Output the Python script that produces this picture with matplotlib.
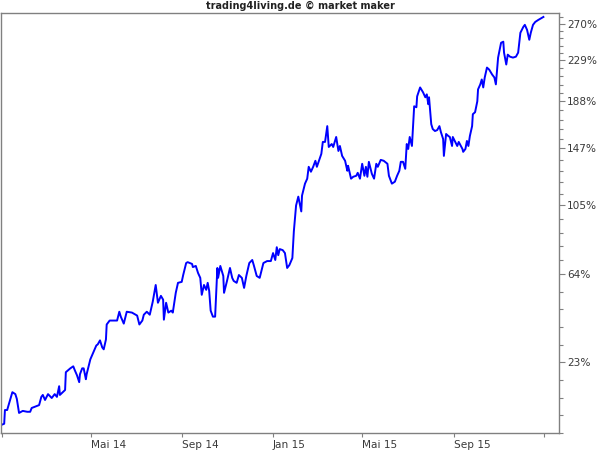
import numpy as np
import pandas as pd
import matplotlib
matplotlib.use('Agg')
from matplotlib import pyplot as plt
from matplotlib.ticker import NullFormatter

# performance since start, days after 2014-01-01 and percent
day = [0, 3, 4, 7, 14, 18, 20, 23, 28, 34, 38, 40, 47, 50, 53, 55, 58, 62, 67, 71,
       74, 77, 78, 82, 85, 86, 92, 96, 98, 101, 104, 105, 108, 110, 113, 114, 119, 123, 127, 129,
       132, 135, 137, 140, 141, 145, 152, 155, 158, 160, 164, 168, 175, 182, 185, 189, 191, 195, 199,
       203, 207, 210, 214, 217, 218, 221, 224, 228, 230, 234, 237, 242, 244, 248, 250, 256, 257, 261,
       264, 267, 269, 272, 275, 277, 279, 281, 284, 287, 290, 291, 294, 298, 299, 303, 307, 310, 312,
       316, 319, 323, 326, 329, 333, 337, 339, 343, 347, 352, 357, 362, 365, 368, 370, 372, 374, 378,
       381, 384, 387, 391, 393, 396, 399,
       403, 404, 408, 411, 413, 416, 419, 422, 424, 430, 432, 435, 438, 440, 444, 446, 450, 453, 455,
       458, 462, 465, 466, 470, 473, 477, 479, 482, 485, 488, 490, 492, 494, 498, 501, 504, 506, 510,
       514, 519, 521, 525, 529, 532, 535, 537, 540, 543, 545, 547, 549, 552, 555, 558, 559, 563,
       567, 570, 572, 574, 575, 578, 580, 583, 586, 589, 591, 594, 595, 598, 601, 603, 606, 607, 613,
       615, 620, 621, 624, 626, 628, 630, 633, 634, 637, 640, 641, 644, 646, 648, 650, 653, 656, 660,
       663, 665, 668, 672, 675, 676, 679, 681, 684, 688, 692, 695, 698, 702, 704, 707, 710, 712, 715,
       718, 722, 729]
perf = [0.4, 0.7, 5.3, 5.3, 11.6, 10.9, 9.2, 4.3, 5.0, 4.7, 4.7, 6.0, 6.7, 7.0, 9.9, 10.6, 8.8, 10.9, 9.5, 10.9,
        9.9, 13.8, 10.6, 11.6, 12.4, 19.1, 20.6, 21.4, 19.9, 17.9, 15.3, 18.3, 20.6, 20.6, 16.4, 18.3, 24.2, 27.0, 29.9, 30.4,
        32.1, 29.1, 28.3, 32.5, 39.1, 40.9, 40.9, 40.9, 45.0, 42.7, 39.5, 45.0, 44.6, 43.2, 39.1, 40.9, 43.6, 45.0, 43.6,
        49.8, 58.2, 49.3, 52.7, 50.8, 41.3, 49.3, 44.6, 45.5, 44.6, 54.2, 59.3, 59.8, 63.4, 69.9, 70.4, 69.4, 67.7, 68.3,
        64.5, 61.9, 53.2, 58.2, 55.7, 59.3, 55.2, 45.5, 42.7, 42.7, 67.2, 61.9, 68.3, 62.9, 54.2, 60.3, 67.2, 61.9, 60.3,
        59.3, 63.4, 61.9, 56.7, 62.9, 69.9, 71.6, 68.8, 62.9, 61.9, 69.9, 71.0, 71.0, 75.5, 71.6, 78.9, 74.3, 77.8, 77.2,
        75.5, 67.2, 68.8, 72.7, 88.4, 104.9, 110.9,
        101.0, 111.6, 120.0, 123.6, 132.4, 128.7, 132.4, 137.0, 132.4, 142.4, 152.0, 152.0, 165.3, 147.9, 150.3, 147.9, 156.1, 144.7, 148.7,
        140.8, 137.0, 129.4, 133.2, 123.6, 125.0, 125.7, 127.9, 123.6, 134.7, 125.7, 132.4, 125.0, 136.2, 127.2, 123.6, 134.7, 132.4, 137.7,
        137.0, 134.7, 125.7, 120.0, 121.4, 125.7, 129.4, 136.2, 136.2, 130.9, 150.3, 146.3, 156.1, 148.7, 183.0, 182.1, 192.3, 200.9,
        196.1, 191.4, 194.2, 184.9, 191.4, 167.0, 162.8, 161.1, 161.9, 165.3, 160.2, 154.4, 140.8, 158.6, 156.9, 156.1, 148.7, 156.1, 148.7,
        152.0, 146.3, 144.0, 146.3, 152.8, 148.7, 156.9, 165.3, 175.8, 177.6, 187.6, 199.0, 203.9, 208.8, 200.9, 210.8, 221.0, 218.9, 213.8,
        210.8, 203.9, 231.6, 248.0, 249.2, 237.0, 224.2, 234.8, 232.6, 231.6, 232.6, 237.0, 259.5, 266.5, 268.9, 262.9, 251.4, 259.5, 268.9,
        272.4, 274.8, 278.5]

y_ticks = [23, 64, 105, 147, 188, 229, 270]
x_ticks = ['2014-01-01', '2014-05-01', '2014-09-01', '2015-01-01', '2015-05-01', '2015-09-01', '2016-01-01']
x_labels = ['', 'Mai 14', 'Sep 14', 'Jan 15', 'Mai 15', 'Sep 15', '']

start = pd.Timestamp('2014-01-01')
dates = start + pd.to_timedelta(day, unit='D')
ratio = 1 + np.array(perf) / 100.0

plt.rcParams['font.family'] = 'DejaVu Sans'
fig = plt.figure(figsize=(6, 4.5), dpi=100)
ax = fig.add_axes([1/600, 17/450, 558/600, 420/450])

ax.plot(dates, ratio, color='#0000ff', lw=1.4)

ax.set_yscale('log')
ax.set_ylim(0.9875, 3.834)
ax.set_xlim(start - pd.Timedelta(days=1.3), start + pd.Timedelta(days=750))

# majors at the percent levels, minors split each gap evenly in log space
maj = 1 + np.array(y_ticks) / 100.0
lg = np.log(maj)
minors = []
for i in range(len(lg) - 1):
    minors += list(np.exp(lg[i] + (lg[i+1] - lg[i]) * np.arange(1, 5) / 5))
step_lo = (lg[1] - lg[0]) / 5
minors += list(np.exp(lg[0] - step_lo * np.arange(1, 5)))
minors.append(np.exp(lg[-1] + (lg[-1] - lg[-2]) / 5))

ax.yaxis.tick_right()
ax.set_yticks(maj)
ax.set_yticklabels(['%d%%' % v for v in y_ticks])
ax.set_yticks(minors, minor=True)
ax.yaxis.set_minor_formatter(NullFormatter())

ax.set_xticks(pd.to_datetime(x_ticks))
ax.set_xticklabels(x_labels, ha='left')
ax.xaxis.set_minor_locator(matplotlib.ticker.NullLocator())

ax.tick_params(axis='y', which='major', length=4, width=0.8, color='#808080',
               labelsize=7.6, labelcolor='#3a3a3a', pad=2)
ax.tick_params(axis='y', which='minor', length=3, width=0.8, color='#808080')
ax.tick_params(axis='x', length=3, width=0.8, color='#808080',
               labelsize=7.6, labelcolor='#3a3a3a', pad=2)

for s in ax.spines.values():
    s.set_color('#808080')
    s.set_linewidth(1)

fig.text(0.5, 1 - 6/450, 'trading4living.de \u00a9 market maker', ha='center', va='center',
         fontsize=7, fontweight='bold', color='#222222')

fig.savefig('out.png', dpi=100)
